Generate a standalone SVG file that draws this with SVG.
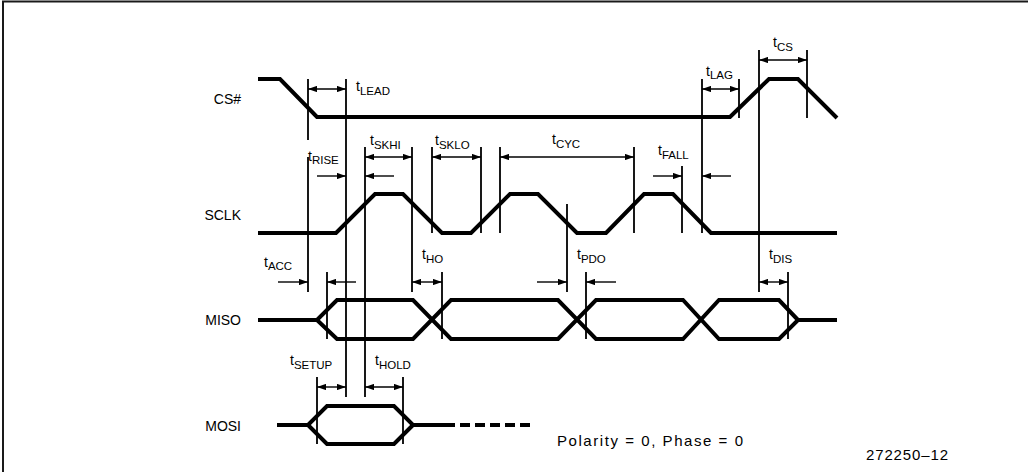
<svg xmlns="http://www.w3.org/2000/svg" width="1028" height="472" viewBox="0 0 1028 472">
<defs>
<marker id="ah" viewBox="0 0 10 7" refX="10" refY="3.5" markerWidth="9" markerHeight="6.3" markerUnits="userSpaceOnUse" orient="auto-start-reverse"><path d="M0,0 L10,3.5 L0,7 z" fill="#000"/></marker>
</defs>
<style>
.sig{fill:none;stroke:#000;stroke-width:4;stroke-linejoin:miter}
.ref{fill:none;stroke:#000;stroke-width:1.8}
.ar{fill:none;stroke:#000;stroke-width:1.4}
.one{marker-end:url(#ah)}
.two{marker-start:url(#ah);marker-end:url(#ah)}
.lbl{font-family:"Liberation Sans",Arial,sans-serif;font-size:14px;fill:#000;text-anchor:end}
.tl{font-family:"Liberation Sans",Arial,sans-serif;font-size:14px;fill:#000}
.sub{font-size:11.5px}
.ft{font-family:"Liberation Sans",Arial,sans-serif;font-size:15px;fill:#000}
</style>
<rect width="1028" height="472" fill="#fff"/>
<path d="M3,472 V1.5 H1028" fill="none" stroke="#1a1a1a" stroke-width="2"/>

<g id="cs">
<text class="lbl" x="241" y="104">CS#</text>
<path class="sig" d="M258,79 H280 L317,117 H730 L769,79 H798 L837,118"/>
</g>
<g id="sclk">
<text class="lbl" x="241" y="220">SCLK</text>
<path class="sig" d="M258,233 H336 L375,194 H403 L442,233 H471 L510,194 H538 L577,233 H606 L644,194 H673 L711,233 H837"/>
</g>
<g id="miso">
<text class="lbl" x="241" y="325">MISO</text>
<path class="sig" d="M258,320 H317 L337,300 H413 L451,339 H558 L596,300 H683 L719,339 H779 L798,320 H837"/>
<path class="sig" d="M317,320 L337,339 H413 L451,300 H558 L596,339 H683 L719,300 H779 L798,320"/>
</g>
<g id="mosi">
<text class="lbl" x="241" y="431">MOSI</text>
<path class="sig" d="M277,425 H308 L327,406 H394 L413,425 H455"/>
<path class="sig" d="M308,425 L327,444 H394 L413,425"/>
<path class="sig" d="M460,425 H530" stroke-dasharray="10,5"/>
</g>

<g id="connectors">
<path class="ref" d="M308,79 V140 M308,157 V292 M346,79 V397 M365,147 V397 M412,147 V292 M432,147 V233 M481,147 V233 M500,147 V233 M634,147 V233 M567,204 V292 M682,166 V233 M702,79 V233 M739,79 V118 M759,50 V292 M807,50 V118 M327,272 V339 M442,272 V339 M586,272 V339 M788,272 V339 M317,377 V444 M403,377 V444"/>
<line class="ar two" x1="308" y1="89" x2="346" y2="89"/>
<line class="ar two" x1="759" y1="60" x2="807" y2="60"/>
<line class="ar two" x1="702" y1="89" x2="739" y2="89"/>
<line class="ar two" x1="365" y1="157" x2="412" y2="157"/>
<line class="ar two" x1="432" y1="157" x2="481" y2="157"/>
<line class="ar two" x1="500" y1="157" x2="634" y2="157"/>
<line class="ar one" x1="317" y1="176" x2="346" y2="176"/>
<line class="ar one" x1="394" y1="176" x2="365" y2="176"/>
<line class="ar one" x1="653" y1="176" x2="682" y2="176"/>
<line class="ar one" x1="731" y1="176" x2="702" y2="176"/>
<line class="ar one" x1="278" y1="282" x2="308" y2="282"/>
<line class="ar one" x1="356" y1="282" x2="327" y2="282"/>
<line class="ar two" x1="412" y1="282" x2="442" y2="282"/>
<line class="ar one" x1="537" y1="282" x2="567" y2="282"/>
<line class="ar one" x1="616" y1="282" x2="586" y2="282"/>
<line class="ar two" x1="759" y1="282" x2="788" y2="282"/>
<line class="ar two" x1="317" y1="387" x2="346" y2="387"/>
<line class="ar two" x1="365" y1="387" x2="403" y2="387"/>
</g>

<g id="timing-labels">
<text class="tl" x="356" y="91">t<tspan class="sub" dy="3.5">LEAD</tspan></text>
<text class="tl" x="308" y="160.5">t<tspan class="sub" dy="3.5">RISE</tspan></text>
<text class="tl" x="370" y="145">t<tspan class="sub" dy="3.5">SKHI</tspan></text>
<text class="tl" x="435" y="145">t<tspan class="sub" dy="3.5">SKLO</tspan></text>
<text class="tl" x="552" y="144">t<tspan class="sub" dy="3.5">CYC</tspan></text>
<text class="tl" x="658" y="155">t<tspan class="sub" dy="3.5">FALL</tspan></text>
<text class="tl" x="706" y="75.5">t<tspan class="sub" dy="3.5">LAG</tspan></text>
<text class="tl" x="773" y="47">t<tspan class="sub" dy="3.5">CS</tspan></text>
<text class="tl" x="264" y="266.5">t<tspan class="sub" dy="3.5">ACC</tspan></text>
<text class="tl" x="422" y="259">t<tspan class="sub" dy="3.5">HO</tspan></text>
<text class="tl" x="577" y="259">t<tspan class="sub" dy="3.5">PDO</tspan></text>
<text class="tl" x="769" y="259">t<tspan class="sub" dy="3.5">DIS</tspan></text>
<text class="tl" x="290" y="365">t<tspan class="sub" dy="3.5">SETUP</tspan></text>
<text class="tl" x="375" y="365">t<tspan class="sub" dy="3.5">HOLD</tspan></text>
</g>

<text class="ft" x="557" y="446" textLength="186" lengthAdjust="spacing">Polarity = 0, Phase = 0</text>
<text class="ft" x="866" y="460" textLength="82" lengthAdjust="spacing">272250–12</text>
</svg>
